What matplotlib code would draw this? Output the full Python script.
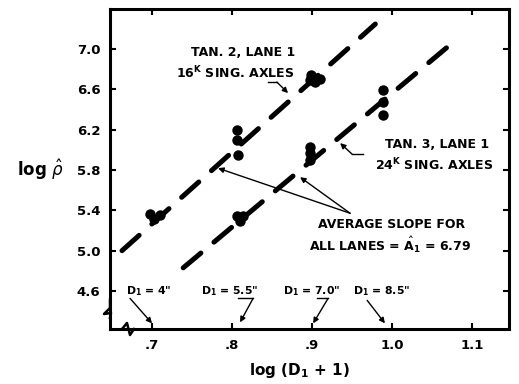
import matplotlib
matplotlib.use("Agg")
import matplotlib.pyplot as plt

plt.rcParams['mathtext.fontset'] = 'dejavusans'

# data
lane2_x = [0.698, 0.710, 0.703, 0.806, 0.806, 0.807, 0.898, 0.897, 0.904, 0.910]
lane2_y = [5.36, 5.35, 5.31, 6.195, 6.096, 5.947, 6.74, 6.69, 6.67, 6.70]
lane3_x = [0.806, 0.814, 0.810, 0.8975, 0.8975, 0.8975, 0.989, 0.989, 0.989]
lane3_y = [5.34, 5.34, 5.29, 6.027, 5.967, 5.897, 6.593, 6.474, 6.344]
fit2_x = [0.6625, 0.979]
fit2_y = [5.00, 7.248]
fit3_x = [0.739, 1.075]
fit3_y = [4.83, 7.059]

xticks = [0.7, 0.8, 0.9, 1.0, 1.1]
xticklabels = [".7", ".8", ".9", "1.0", "1.1"]
yticks = [4.6, 5.0, 5.4, 5.8, 6.2, 6.6, 7.0]
yticklabels = ["4.6", "5.0", "5.4", "5.8", "6.2", "6.6", "7.0"]

fig = plt.figure(figsize=(5.19, 3.84), dpi=100)
ax = fig.add_axes([110/519, 1 - 329/384, 399/519, 320/384])

for xs, ys in [(fit2_x, fit2_y), (fit3_x, fit3_y)]:
    ax.plot(xs, ys, color='black', lw=3.6, linestyle=(0, (4.6, 3.4)),
            dash_capstyle='round')
ax.plot(lane2_x, lane2_y, 'o', color='black', ms=7.5, mec='none')
ax.plot(lane3_x, lane3_y, 'o', color='black', ms=7.5, mec='none')

ax.set_xlim(0.6475, 1.146)
ax.set_ylim(4.223, 7.397)
ax.set_xticks(xticks)
ax.set_xticklabels(xticklabels)
ax.set_yticks(yticks)
ax.set_yticklabels(yticklabels)
ax.tick_params(direction='in', length=4, width=1.5, top=True, right=True,
               labelsize=9.5, pad=7)
for lab in ax.get_xticklabels() + ax.get_yticklabels():
    lab.set_fontweight('bold')
for s in ax.spines.values():
    s.set_linewidth(2.2)

ax.set_xlabel("log (D$_\\mathbf{1}$ + 1)", fontsize=11, fontweight='bold')
ax.xaxis.set_label_coords(0.476, -0.1)
ax.set_ylabel("log $\\hat{\\rho}$", fontsize=12, fontweight='bold', rotation=0,
              va='center', ha='center')
ax.yaxis.set_label_coords(-0.175, 0.497)

tk = dict(fontsize=9, fontweight='bold', ha='center', va='center')
ax.text(0.8138, 6.97, "TAN. 2, LANE 1", **tk)
ax.text(0.8038, 6.76, "16$^\\mathbf{K}$ SING. AXLES", **tk)
ax.text(1.056, 6.056, "TAN. 3, LANE 1", **tk)
ax.text(1.0525, 5.848, "24$^\\mathbf{K}$ SING. AXLES", **tk)
ax.text(0.9988, 5.262, "AVERAGE SLOPE FOR", **tk)
ax.text(0.9975, 5.053, "ALL LANES = $\\hat{\\mathbf{A}}_\\mathbf{1}$ = 6.79", **tk)
dk = dict(tk, fontsize=7.8)
ax.text(0.696, 4.597, "D$_\\mathbf{1}$ = 4\"", **dk)
ax.text(0.7975, 4.597, "D$_\\mathbf{1}$ = 5.5\"", **dk)
ax.text(0.900, 4.597, "D$_\\mathbf{1}$ = 7.0\"", **dk)
ax.text(0.9875, 4.597, "D$_\\mathbf{1}$ = 8.5\"", **dk)

arr = dict(arrowstyle='-|>', color='black', lw=1.0, mutation_scale=8,
           shrinkA=0, shrinkB=0)
ax.annotate("", xy=(0.7825, 5.818), xytext=(0.9475, 5.371), arrowprops=arr)
ax.annotate("", xy=(0.885, 5.729), xytext=(0.9475, 5.371), arrowprops=arr)


def leader(pts):
    xs = [p[0] for p in pts]
    ys = [p[1] for p in pts]
    ax.plot(xs[:-1], ys[:-1], color='black', lw=1.0, clip_on=False)
    ax.annotate("", xy=pts[-1], xytext=pts[-2], arrowprops=arr)


leader([(0.845, 6.672), (0.856, 6.672), (0.870, 6.563)])
leader([(0.9638, 5.957), (0.950, 5.957), (0.935, 6.067)])
leader([(0.6725, 4.527), (0.700, 4.279)])
leader([(0.8075, 4.527), (0.8263, 4.527), (0.810, 4.289)])
leader([(0.9063, 4.527), (0.920, 4.527), (0.9013, 4.279)])
leader([(0.9688, 4.507), (0.991, 4.279)])

# axis break marks
def fx(px):
    return (px - 110) / 399


def fy(py):
    return (329 - py) / 320


ax.plot([fx(110), fx(110), fx(104), fx(111), fx(110)],
        [fy(300), fy(308), fy(314), fy(313), fy(318)],
        transform=ax.transAxes, color='black', lw=1.8, clip_on=False)
ax.plot([fx(122), fx(127), fx(130), fx(134)],
        [fy(329), fy(323), fy(335), fy(329)],
        transform=ax.transAxes, color='black', lw=1.8, clip_on=False)

fig.savefig("out.png", dpi=100)
